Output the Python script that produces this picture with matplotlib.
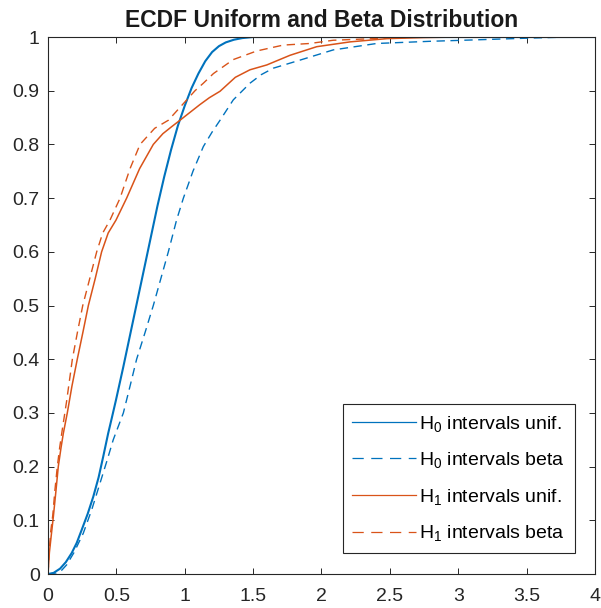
import matplotlib
matplotlib.use('Agg')
import matplotlib.pyplot as plt
from matplotlib.lines import Line2D
from matplotlib.ticker import FormatStrFormatter

plt.rcParams['font.family'] = ['Liberation Sans', 'DejaVu Sans']
plt.rcParams['mathtext.fontset'] = 'custom'
plt.rcParams['mathtext.rm'] = 'Liberation Sans'
plt.rcParams['mathtext.it'] = 'Liberation Sans'

BLUE = '#0072BD'
ORANGE = '#D95319'

# empirical CDF curves, sampled along each trace
h0_unif_x = [0, 0.04, 0.088, 0.13, 0.173, 0.21, 0.246, 0.29, 0.331, 0.37, 0.404, 0.44, 0.466, 0.497,
             0.55, 0.60, 0.65, 0.70, 0.75, 0.80, 0.85, 0.90, 0.95, 1.0, 1.05, 1.10,
             1.15, 1.20, 1.25, 1.30, 1.36, 1.42, 1.5, 4.0]
h0_unif_y = [0, 0.002, 0.01, 0.022, 0.039, 0.058, 0.082, 0.112, 0.144, 0.18, 0.219, 0.262, 0.29, 0.324,
             0.385, 0.445, 0.505, 0.565, 0.625, 0.685, 0.74, 0.79, 0.835, 0.872, 0.905, 0.932,
             0.955, 0.972, 0.983, 0.990, 0.995, 0.998, 1.0, 1.0]

h0_beta_x = [0, 0.06, 0.10, 0.136, 0.19, 0.258, 0.32, 0.38, 0.43, 0.477, 0.551, 0.60, 0.648, 0.71,
             0.77, 0.825, 0.88, 0.94, 0.99, 1.06, 1.136, 1.20, 1.258, 1.355, 1.477, 1.56, 1.648,
             1.843, 2.086, 2.404, 2.79, 3.16, 3.52, 3.8, 4.0]
h0_beta_y = [0, 0.002, 0.007, 0.017, 0.04, 0.076, 0.12, 0.169, 0.21, 0.25, 0.30, 0.35, 0.40, 0.45,
             0.50, 0.55, 0.60, 0.659, 0.70, 0.75, 0.796, 0.823, 0.845, 0.883, 0.914, 0.93, 0.942,
             0.957, 0.976, 0.988, 0.992, 0.995, 0.998, 1.0, 1.0]

h1_unif_x = [0, 0.01, 0.025, 0.039, 0.058, 0.075, 0.095, 0.112, 0.141, 0.175, 0.214, 0.255, 0.295,
             0.345, 0.392, 0.44, 0.497, 0.575, 0.67, 0.77, 0.84, 0.904, 0.965, 1.04, 1.11, 1.18,
             1.258, 1.37, 1.477, 1.6, 1.77, 1.965, 2.21, 2.48, 2.75, 3.0, 4.0]
h1_unif_y = [0, 0.04, 0.075, 0.107, 0.155, 0.20, 0.235, 0.262, 0.30, 0.35, 0.40, 0.45, 0.50,
             0.55, 0.60, 0.635, 0.659, 0.70, 0.755, 0.80, 0.82, 0.833, 0.845, 0.86, 0.874, 0.887,
             0.899, 0.925, 0.939, 0.948, 0.966, 0.982, 0.991, 0.997, 0.999, 1.0, 1.0]

h1_beta_x = [0, 0.008, 0.02, 0.035, 0.05, 0.068, 0.085, 0.105, 0.135, 0.178, 0.215, 0.254, 0.305,
             0.356, 0.40, 0.453, 0.527, 0.60, 0.673, 0.78, 0.88, 0.99, 1.075, 1.136, 1.21, 1.355,
             1.526, 1.72, 1.916, 2.086, 2.38, 2.7, 4.0]
h1_beta_y = [0, 0.04, 0.08, 0.11, 0.155, 0.20, 0.235, 0.27, 0.32, 0.40, 0.45, 0.50, 0.55,
             0.60, 0.635, 0.659, 0.70, 0.755, 0.80, 0.83, 0.845, 0.876, 0.90, 0.914, 0.932, 0.958,
             0.974, 0.985, 0.988, 0.994, 0.997, 1.0, 1.0]

labels = ['H$_0$ intervals unif.', 'H$_0$ intervals beta',
          'H$_1$ intervals unif.', 'H$_1$ intervals beta']

fig = plt.figure(figsize=(6.01, 6.08), dpi=100)
ax = fig.add_axes([0.0799, 0.0559, 0.910, 0.8832])

ax.plot(h0_unif_x, h0_unif_y, color=BLUE, lw=1.5)
ax.plot(h0_beta_x, h0_beta_y, color=BLUE, lw=1.0, dashes=(6, 4))
ax.plot(h1_unif_x, h1_unif_y, color=ORANGE, lw=1.1)
ax.plot(h1_beta_x, h1_beta_y, color=ORANGE, lw=1.0, dashes=(6, 4))

ax.set_xlim(0, 4)
ax.set_ylim(0, 1)
ax.set_xticks([0, 0.5, 1, 1.5, 2, 2.5, 3, 3.5, 4])
ax.set_yticks([i / 10 for i in range(11)])
ax.xaxis.set_major_formatter(FormatStrFormatter('%g'))
ax.yaxis.set_major_formatter(FormatStrFormatter('%g'))
ax.tick_params(direction='in', top=True, right=True, length=4, width=0.7,
               labelsize=14, colors='#262626')
ax.tick_params(axis='x', pad=10)
ax.tick_params(axis='y', pad=6)
for s in ax.spines.values():
    s.set_color('#262626')
    s.set_linewidth(0.8)

ax.set_title('ECDF Uniform and Beta Distribution', fontsize=16.5, fontweight='bold', pad=7,
             color='#1a1a1a')

# thinner legend samples with longer dashes
handles = [Line2D([], [], color=BLUE, lw=0.9),
           Line2D([], [], color=BLUE, lw=0.9, dashes=(9, 6)),
           Line2D([], [], color=ORANGE, lw=0.9),
           Line2D([], [], color=ORANGE, lw=0.9, dashes=(9, 6))]
leg = ax.legend(handles, labels, loc='lower right', bbox_to_anchor=(0.9634, 0.039), fontsize=14,
                handlelength=3.3, handletextpad=0.15, labelspacing=0.85, borderaxespad=0,
                fancybox=False, edgecolor='#262626', framealpha=1, borderpad=0.5)
leg.get_frame().set_linewidth(0.8)

plt.savefig('out.png', dpi=100)
